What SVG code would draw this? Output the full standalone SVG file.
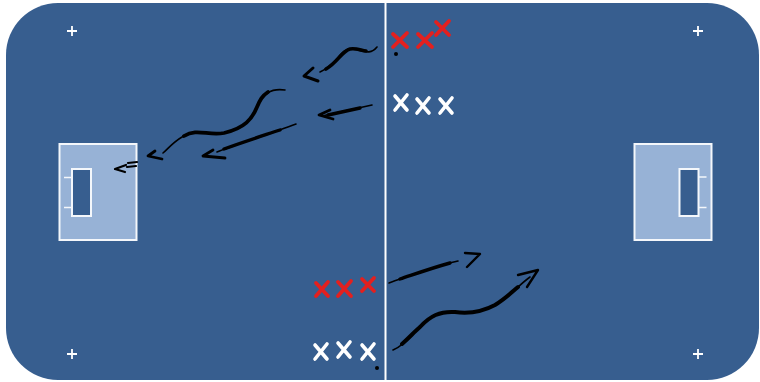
<svg xmlns="http://www.w3.org/2000/svg" width="760" height="382" viewBox="0 0 760 382">
<style>
.field{fill:#375e8f}
.line{stroke:#ffffff;stroke-width:2;fill:none}
.box{fill:#97b2d6;stroke:#f4f7fb;stroke-width:2}
.goal{fill:#375e8f;stroke:#f4f7fb;stroke-width:2}
.tick{stroke:#f4f7fb;stroke-width:1.5}
.plus{stroke:#ffffff;stroke-width:1.8}
.xr{stroke:#e3201f;stroke-width:3.8;stroke-linecap:round;fill:none}
.xw{stroke:#ffffff;stroke-width:3.6;stroke-linecap:round;fill:none}
.brush{stroke:#000000;fill:none;stroke-linecap:round;stroke-linejoin:round}
.dot{fill:#000000}
</style>
<rect width="760" height="382" fill="#ffffff"/>
<g id="pitch">
<rect class="field" x="6" y="3" width="753" height="377" rx="52" ry="52"/>
<line class="line" x1="385.5" y1="3" x2="385.5" y2="380"/>
<path class="plus" d="M67 31H77M72 26V36M693 31H703M698 26V36M67 354H77M72 349V359M693 354H703M698 349V359"/>
</g>
<g id="goal-left">
<rect class="box" x="59.5" y="144" width="77" height="96"/>
<rect class="goal" x="72" y="169" width="19" height="47"/>
<path class="tick" d="M64 177.5H72M64 207.5H72"/>
</g>
<g id="goal-right">
<rect class="box" x="634.5" y="144" width="77" height="96"/>
<rect class="goal" x="679.5" y="169" width="19" height="47"/>
<path class="tick" d="M698.5 177H706.5M698.5 207.5H706.5"/>
</g>
<g id="red-top">
<path class="xr" d="M393 34L407 47M407 33L393 47"/>
<path class="xr" d="M418 34L432 47M432 33L418 47"/>
<path class="xr" d="M436 22L449 35M449 21L436 35"/>
<circle class="dot" cx="396" cy="54" r="2"/>
</g>
<g id="white-top">
<path class="xw" d="M395 96L407 110M407 95L395 110"/>
<path class="xw" d="M417 99L429 113M429 98L417 113"/>
<path class="xw" d="M440 99L452 113M452 98L440 113"/>
</g>
<g id="red-bottom">
<path class="xr" d="M316 283L328 296M328 282L316 296"/>
<path class="xr" d="M338 282L351 296M351 281L338 296"/>
<path class="xr" d="M362 279L374 291M374 278L362 291"/>
</g>
<g id="white-bottom">
<path class="xw" d="M315 345L327 359M327 344L315 359"/>
<path class="xw" d="M338 343L350 357M350 342L338 357"/>
<path class="xw" d="M362 345L374 359M374 344L362 359"/>
<circle class="dot" cx="377" cy="368" r="2"/>
</g>
<g id="connectors">
<path class="brush" stroke-width="1.6" d="M377 47C370 56 362 50 352 49C340 48 338 64 320 72"/>
<path class="brush" stroke-width="3.6" d="M366 51C360 50 356 48 350 49C342 51 338 62 326 69"/>
<path class="brush" stroke-width="3" d="M313 68L304 76L318 81"/>
<path class="brush" stroke-width="1.6" d="M372 105L322 116"/>
<path class="brush" stroke-width="3.4" d="M360 108L328 115"/>
<path class="brush" stroke-width="2.8" d="M330 110L319 115L333 119"/>
<path class="brush" stroke-width="1.6" d="M285 90C272 88 264 93 259 103C253 118 247 128 224 133C208 136 197 127 182 137C172 143 168 149 163 153"/>
<path class="brush" stroke-width="3.8" d="M268 92C262 96 260 100 257 107C252 119 245 128 224 133C208 136 197 128 184 136"/>
<path class="brush" stroke-width="2.8" d="M155 151L148 156L162 159"/>
<path class="brush" stroke-width="1.6" d="M296 124C270 134 240 143 217 152"/>
<path class="brush" stroke-width="3.4" d="M280 130C262 136 243 142 224 149"/>
<path class="brush" stroke-width="2.8" d="M213 150L203 156L225 158"/>
<path class="brush" stroke-width="2.2" d="M126 165L115 169L125 172M128 163L137 162M127 167L136 166"/>
<path class="brush" stroke-width="1.6" d="M389 283C412 275 432 267 458 261"/>
<path class="brush" stroke-width="3.4" d="M400 279C418 273 432 268 450 263"/>
<path class="brush" stroke-width="2.4" d="M465 253L480 254L467 267"/>
<path class="brush" stroke-width="1.6" d="M393 350C405 345 412 335 420 327C430 316 440 311 455 312C470 314 482 312 495 305C510 296 520 284 530 277"/>
<path class="brush" stroke-width="4" d="M402 344C410 337 414 332 420 327C430 316 440 311 455 312C470 314 482 312 495 305C505 299 512 292 518 287"/>
<path class="brush" stroke-width="2.4" d="M518 275L538 270L527 287"/>
</g>
</svg>
